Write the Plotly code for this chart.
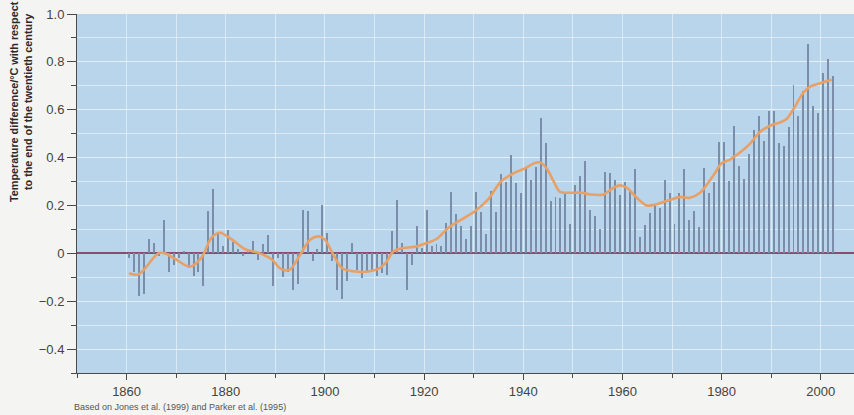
import plotly.graph_objects as go

# ---------------- data ----------------
years = list(range(1861, 2004))
anomaly = [
    # 1861-1870
    -0.02, -0.08, -0.18, -0.17, 0.06, 0.045, -0.01, 0.14, -0.08, -0.05,
    # 1871-1880
    -0.02, 0.01, -0.06, -0.095, -0.08, -0.135, 0.177, 0.267, 0.086, 0.03,
    # 1881-1890
    0.097, 0.047, 0.02, -0.01, 0.02, 0.052, -0.027, 0.04, 0.076, -0.136,
    # 1891-1900
    -0.018, -0.10, -0.08, -0.155, -0.13, 0.18, 0.178, -0.03, 0.02, 0.20,
    # 1901-1910
    0.085, -0.03, -0.152, -0.19, -0.117, 0.043, -0.068, -0.103, -0.075, -0.068,
    # 1911-1920
    -0.096, -0.082, -0.089, 0.092, 0.221, 0.043, -0.152, -0.047, 0.113, 0.022,
    # 1921-1930
    0.18, 0.03, 0.04, 0.03, 0.128, 0.257, 0.166, 0.115, 0.06, 0.115,
    # 1931-1940
    0.258, 0.171, 0.08, 0.259, 0.171, 0.331, 0.30, 0.41, 0.295, 0.254,
    # 1941-1950
    0.36, 0.305, 0.362, 0.567, 0.46, 0.217, 0.234, 0.233, 0.247, 0.122,
    # 1951-1960
    0.285, 0.324, 0.387, 0.18, 0.157, 0.101, 0.338, 0.336, 0.306, 0.243,
    # 1961-1970
    0.30, 0.264, 0.353, 0.07, 0.118, 0.168, 0.198, 0.19, 0.308, 0.254,
    # 1971-1980
    0.121, 0.253, 0.353, 0.141, 0.178, 0.109, 0.358, 0.254, 0.30, 0.465,
    # 1981-1990
    0.465, 0.302, 0.531, 0.365, 0.312, 0.416, 0.516, 0.572, 0.47, 0.596,
    # 1991-2000
    0.596, 0.462, 0.45, 0.526, 0.703, 0.575, 0.68, 0.874, 0.615, 0.588,
    # 2001-2003
    0.753, 0.811, 0.742,
]

smooth_years = [
    1861.0, 1862.9, 1866.9, 1868.2, 1870.2, 1873.3, 1875.6, 1877.6, 1879.3,
    1881.7, 1884.4, 1887.0, 1889.75, 1891.6, 1893.4, 1895.5, 1897.5, 1899.2,
    1900.5, 1902.2, 1903.9, 1906.2, 1909.6, 1911.6, 1913.0, 1914.3, 1916.3,
    1919.0, 1921.0, 1923.0, 1925.4, 1928.1, 1930.8, 1933.4, 1936.1, 1938.8,
    1940.85, 1942.9, 1943.9, 1945.2, 1946.6, 1947.9, 1949.6, 1952.3, 1954.0,
    1956.65, 1958.7, 1960.0, 1961.4, 1963.4, 1965.4, 1967.4, 1969.4, 1972.1,
    1974.1, 1976.15, 1977.8, 1979.2, 1980.5, 1982.2, 1984.2, 1986.2, 1988.3,
    1990.3, 1992.3, 1993.6, 1995.0, 1997.0, 1998.3, 2000.4, 2002.0, 2002.7,
]
smooth_values = [
    -0.083, -0.088, 0.0, 0.0, -0.022, -0.056, -0.018, 0.065, 0.086,
    0.058, 0.017, 0.003, -0.025, -0.065, -0.068, -0.006, 0.057, 0.071,
    0.057, -0.006, -0.061, -0.075, -0.075, -0.061, -0.033, 0.008, 0.022,
    0.029, 0.043, 0.06, 0.107, 0.142, 0.177, 0.225, 0.302, 0.337,
    0.355, 0.378, 0.38, 0.355, 0.302, 0.257, 0.253, 0.253, 0.246,
    0.246, 0.274, 0.284, 0.274, 0.232, 0.2, 0.205, 0.219, 0.235,
    0.232, 0.253, 0.295, 0.337, 0.376, 0.392, 0.421, 0.457, 0.508,
    0.533, 0.547, 0.561, 0.603, 0.672, 0.696, 0.711, 0.721, 0.725,
]

ytick_vals = [-0.4, -0.2, 0, 0.2, 0.4, 0.6, 0.8, 1.0]
ytick_text = ["\u22120.4", "\u22120.2", "0", "0.2", "0.4", "0.6", "0.8", "1.0"]

y_title = "Temperature difference/\u00b0C with respect<br>to the end of the twentieth century"
source_note = "Based on Jones et al. (1999) and Parker et al. (1995)"

# annual values are drawn half a year to the left of the year tick
YEAR_SHIFT = -0.5

# ---------------- style ----------------
PLOT_BG = "#b8d5ec"
PAPER_BG = "#f4f4f2"
GRID = "rgba(232,242,250,0.7)"
BAR_COLOR = "#7a8ea9"
SMOOTH_COLOR = "#e8a064"
ZERO_COLOR = "#8a4d70"
AXIS_COLOR = "#4a4a4a"
TEXT_COLOR = "#444444"
FONT = "Liberation Sans, Arial, sans-serif"

fig = go.Figure()

fig.add_trace(go.Bar(
    x=[y + YEAR_SHIFT for y in years],
    y=anomaly,
    width=0.2,
    marker=dict(color=BAR_COLOR, line=dict(width=0)),
    hoverinfo="x+y",
))

fig.add_trace(go.Scatter(
    x=[y + YEAR_SHIFT for y in smooth_years],
    y=smooth_values,
    mode="lines",
    line=dict(color=SMOOTH_COLOR, width=2.6, shape="spline", smoothing=0.9),
    hoverinfo="skip",
))

fig.update_layout(
    width=854,
    height=415,
    margin=dict(l=77, r=0, t=14, b=42),
    paper_bgcolor=PAPER_BG,
    plot_bgcolor=PLOT_BG,
    showlegend=False,
    font=dict(family=FONT, color=TEXT_COLOR),
    bargap=0,
)

fig.update_xaxes(
    range=[1850, 2006.7],
    tickmode="linear",
    tick0=1860,
    dtick=20,
    ticks="outside",
    ticklen=6,
    tickwidth=1,
    tickcolor=AXIS_COLOR,
    showline=True,
    linecolor=AXIS_COLOR,
    linewidth=1,
    showgrid=True,
    gridcolor=GRID,
    gridwidth=1,
    zeroline=False,
    tickfont=dict(size=13, color=TEXT_COLOR),
    minor=dict(tick0=1850, dtick=10, ticks="outside", ticklen=4,
               tickcolor=AXIS_COLOR, showgrid=True, gridcolor=GRID),
)

fig.update_yaxes(
    range=[-0.5, 1.0],
    tickmode="array",
    tickvals=ytick_vals,
    ticktext=ytick_text,
    ticks="outside",
    ticklen=9,
    tickwidth=1,
    tickcolor=AXIS_COLOR,
    showline=True,
    linecolor=AXIS_COLOR,
    linewidth=1,
    showgrid=True,
    gridcolor=GRID,
    gridwidth=1,
    zeroline=True,
    zerolinecolor=ZERO_COLOR,
    zerolinewidth=1.6,
    tickfont=dict(size=13, color=TEXT_COLOR),
    minor=dict(tick0=0, dtick=0.1, ticks="outside", ticklen=5,
               tickcolor=AXIS_COLOR, showgrid=True, gridcolor=GRID),
)

# y-axis title (two bold lines, rotated)
fig.add_annotation(
    text=y_title,
    xref="paper", yref="paper",
    x=(21 - 77) / 777, y=(373 - 102) / 359,
    xanchor="center", yanchor="middle",
    textangle=-90,
    showarrow=False,
    font=dict(family=FONT, size=10.8, color="#2a2a2a", weight="bold"),
    align="center",
)

# source note
fig.add_annotation(
    text=source_note,
    xref="paper", yref="paper",
    x=(72 - 77) / 777, y=(373 - 407) / 359,
    xanchor="left", yanchor="middle",
    showarrow=False,
    font=dict(family=FONT, size=9, color="#555555"),
)

fig.write_html(
    "out.html",
    config={"displayModeBar": False},
    post_script="document.body.style.margin='0';document.body.style.padding='0';",
)
